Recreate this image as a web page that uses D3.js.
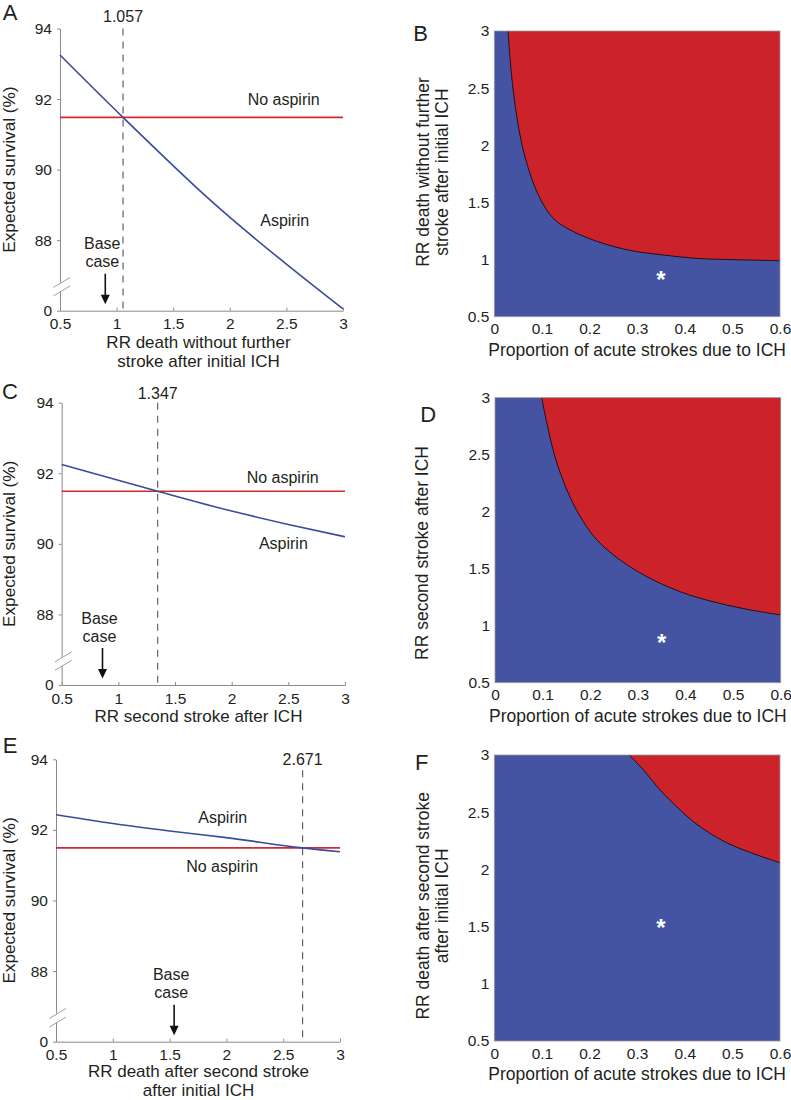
<!DOCTYPE html>
<html><head><meta charset="utf-8">
<script src="https://cdn.jsdelivr.net/npm/d3@7"></script>
<style>
body{margin:0;background:#fff}
svg{display:block}
text{font-family:"Liberation Sans",Arial,sans-serif;fill:#231f20}
</style>
</head><body>
<svg id="chart" width="791" height="1100"></svg>
<script>
// ---------- data ----------
const lineXTicks = [0.5, 1, 1.5, 2, 2.5, 3];
const lineYTicks = [86, 88, 90, 92, 94];
const lineYTickLabels = ["0", "88", "90", "92", "94"];

const noAspirinA = [[0.5, 91.48], [3, 91.48]];
const aspirinA = [[0.5, 93.25], [1.057, 91.48], [1.825, 89.14], [3, 86.05]];
const thresholdA = 1.057;
const baseCaseA = 0.9;

const noAspirinC = [[0.5, 91.49], [3, 91.49]];
const aspirinC = [[0.5, 92.25], [1.347, 91.49], [2, 90.93], [2.5, 90.55], [3, 90.2]];
const thresholdC = 1.347;
const baseCaseC = 0.86;

const noAspirinE = [[0.5, 91.49], [3, 91.49]];
const aspirinE = [[0.5, 92.43], [1, 92.18], [1.5, 91.97], [2, 91.78], [2.671, 91.49], [3, 91.38]];
const thresholdE = 2.671;
const baseCaseE = 1.54;

const mapXTicks = [0, 0.1, 0.2, 0.3, 0.4, 0.5, 0.6];
const mapYTicks = [0.5, 1, 1.5, 2, 2.5, 3];

const boundaryB = [[0.029, 3], [0.033, 2.76], [0.040, 2.47], [0.050, 2.18], [0.065, 1.89],
  [0.093, 1.56], [0.124, 1.36], [0.159, 1.26], [0.215, 1.16], [0.285, 1.08],
  [0.355, 1.04], [0.425, 1.01], [0.495, 1.0], [0.6, 0.99]];
const boundaryD = [[0.098, 3], [0.109, 2.775], [0.126, 2.48], [0.151, 2.19], [0.179, 1.956],
  [0.214, 1.752], [0.263, 1.576], [0.319, 1.43], [0.389, 1.298], [0.458, 1.21],
  [0.529, 1.144], [0.6, 1.094]];
const boundaryF = [[0.2835, 3], [0.313, 2.87], [0.348, 2.694], [0.383, 2.548], [0.418, 2.417],
  [0.453, 2.316], [0.488, 2.233], [0.523, 2.17], [0.558, 2.117], [0.6, 2.058]];

const starB = [0.35, 0.87];
const starD = [0.35, 0.89];
const starF = [0.35, 1.53];

// ---------- styles ----------
const BLUE_LINE = "#3b4a9d", RED_LINE = "#d2282f";
const BLUE_FILL = "#4553a3", RED_FILL = "#cb2329";
const AXIS = "#8a8a8a", TXT = "#231f20";
const FONT = '"Liberation Sans", Arial, sans-serif';

const svg = d3.select("#chart");

function styleAxis(g, size) {
  g.attr("font-family", FONT).attr("font-size", size);
  g.selectAll("text").attr("fill", TXT);
  g.selectAll("line").attr("stroke", AXIS);
  g.select(".domain").attr("stroke", AXIS);
}

function linePanel(cfg) {
  const x = d3.scaleLinear().domain([0.5, 3]).range([cfg.x0, cfg.x1]);
  const y = d3.scaleLinear().domain([86, 94]).range([cfg.y1, cfg.y0]);
  const g = svg.append("g");

  const ya = g.append("g").attr("transform", `translate(${cfg.x0},0)`)
    .call(d3.axisLeft(y).tickValues(lineYTicks)
      .tickFormat((d, i) => lineYTickLabels[i])
      .tickSizeInner(3).tickSizeOuter(0).tickPadding(5));
  styleAxis(ya, 15.5);
  const xa = g.append("g").attr("transform", `translate(0,${cfg.y1})`)
    .call(d3.axisBottom(x).tickValues(lineXTicks).tickFormat(d => String(d))
      .tickSizeInner(-3).tickSizeOuter(0).tickPadding(7.5));
  styleAxis(xa, 15.5);

  // axis break
  const yb = y(86.6), x0 = cfg.x0;
  g.append("polygon")
    .attr("points", `${x0-6.7},${yb-2.5} ${x0+10},${yb-12.5} ${x0+10},${yb-4} ${x0-6.7},${yb+6}`)
    .attr("fill", "#fff");
  g.append("line").attr("x1", x0 - 6.7).attr("y1", yb - 2).attr("x2", x0 + 10).attr("y2", yb - 12)
    .attr("stroke", "#a0a0a0").attr("stroke-width", 1);
  g.append("line").attr("x1", x0 - 6.7).attr("y1", yb + 6.5).attr("x2", x0 + 10).attr("y2", yb - 3.5)
    .attr("stroke", "#a0a0a0").attr("stroke-width", 1);

  // threshold dashed line
  g.append("line")
    .attr("x1", x(cfg.threshold)).attr("x2", x(cfg.threshold))
    .attr("y1", cfg.y0 + cfg.dashTopOffset).attr("y2", cfg.y1)
    .attr("stroke", "#555").attr("stroke-width", 1.1).attr("stroke-dasharray", "7,6");
  g.append("text").attr("x", x(cfg.threshold)).attr("y", cfg.y0 + cfg.threshLabelOffset)
    .attr("dy", "0.35em").attr("text-anchor", "middle").attr("font-size", 16)
    .text(String(cfg.threshold));

  const line = d3.line().x(d => x(d[0])).y(d => y(d[1])).curve(d3.curveMonotoneX);
  g.append("path").datum(cfg.noAsp).attr("d", line).attr("fill", "none")
    .attr("stroke", RED_LINE).attr("stroke-width", 1.6);
  g.append("path").datum(cfg.asp).attr("d", line).attr("fill", "none")
    .attr("stroke", BLUE_LINE).attr("stroke-width", 1.6);

  cfg.labels.forEach(l => {
    g.append("text").attr("x", x(l.x)).attr("y", y(l.y)).attr("dy", "0.35em")
      .attr("text-anchor", "middle").attr("font-size", 16).text(l.text);
  });

  // base case
  const bx = x(cfg.base);
  const bt = g.append("text").attr("text-anchor", "middle").attr("font-size", 16);
  bt.append("tspan").attr("x", bx - 3).attr("y", cfg.y1 - 67).attr("dy", "0.35em").text("Base");
  bt.append("tspan").attr("x", bx - 3).attr("y", cfg.y1 - 49).attr("dy", "0.35em").text("case");
  g.append("line").attr("x1", bx).attr("x2", bx).attr("y1", cfg.y1 - 37).attr("y2", cfg.y1 - 14)
    .attr("stroke", "#111").attr("stroke-width", 1.6);
  g.append("path")
    .attr("d", `M${bx-4.5},${cfg.y1-16} L${bx+4.5},${cfg.y1-16} L${bx},${cfg.y1-6.5} Z`)
    .attr("fill", "#111");

  // axis titles
  g.append("text").attr("transform", `translate(9,${(cfg.y0 + cfg.y1) / 2}) rotate(-90)`)
    .attr("dy", "0.35em").attr("text-anchor", "middle").attr("font-size", 17.2)
    .text("Expected survival (%)");
  cfg.xTitle.forEach((t, i) => {
    g.append("text").attr("x", 198.5).attr("y", cfg.y1 + cfg.xTitleOffset + i * 19.5).attr("dy", "0.35em")
      .attr("text-anchor", "middle").attr("font-size", 17).text(t);
  });

  g.append("text").attr("x", 10).attr("y", cfg.letterY).attr("dy", "0.35em")
    .attr("text-anchor", "middle").attr("font-size", 22).text(cfg.letter);
}

function mapPanel(cfg) {
  const x = d3.scaleLinear().domain([0, 0.6]).range([cfg.x0, cfg.x1]);
  const y = d3.scaleLinear().domain([0.5, 3]).range([cfg.y1, cfg.y0]);
  const g = svg.append("g");

  g.append("rect").attr("x", cfg.x0).attr("y", cfg.y0)
    .attr("width", cfg.x1 - cfg.x0).attr("height", cfg.y1 - cfg.y0).attr("fill", BLUE_FILL);
  const curve = d3.curveCatmullRom.alpha(0.5);
  const area = d3.area().x(d => x(d[0])).y0(y(3)).y1(d => y(d[1])).curve(curve);
  const pts = cfg.boundary;
  g.append("path").datum(pts).attr("d", area).attr("fill", RED_FILL);
  const line = d3.line().x(d => x(d[0])).y(d => y(d[1])).curve(curve);
  g.append("path").datum(pts).attr("d", line).attr("fill", "none")
    .attr("stroke", "#1c1020").attr("stroke-width", 1);
  g.append("rect").attr("x", cfg.x0).attr("y", cfg.y0)
    .attr("width", cfg.x1 - cfg.x0).attr("height", cfg.y1 - cfg.y0)
    .attr("fill", "none").attr("stroke", "#9a9a9a").attr("stroke-width", 0.8);

  g.append("text").attr("x", x(cfg.star[0])).attr("y", y(cfg.star[1])).attr("dy", "0.55em")
    .attr("text-anchor", "middle").attr("font-size", 24).attr("font-weight", "bold")
    .style("fill", "#fff").text("*");

  const ya = g.append("g").attr("transform", `translate(${cfg.x0},0)`)
    .call(d3.axisLeft(y).tickValues(mapYTicks).tickFormat(d => String(d))
      .tickSize(0).tickPadding(5));
  styleAxis(ya, 15.5);
  ya.select(".domain").remove();
  const xa = g.append("g").attr("transform", `translate(0,${cfg.y1})`)
    .call(d3.axisBottom(x).tickValues(mapXTicks).tickFormat(d => String(d))
      .tickSize(0).tickPadding(6.5));
  styleAxis(xa, 15.5);
  xa.select(".domain").remove();

  g.append("text").attr("x", (cfg.x0 + cfg.x1) / 2).attr("y", cfg.y1 + 33).attr("dy", "0.35em")
    .attr("text-anchor", "middle").attr("font-size", 17.5)
    .text("Proportion of acute strokes due to ICH");

  cfg.yTitle.forEach((t, i) => {
    g.append("text").attr("transform", `translate(${cfg.yTitleX + i * 18.5},${cfg.yTitleY}) rotate(-90)`)
      .attr("dy", "0.35em").attr("text-anchor", "middle").attr("font-size", 17.5).text(t);
  });

  g.append("text").attr("x", cfg.letterX).attr("y", cfg.letterY).attr("dy", "0.35em")
    .attr("text-anchor", "middle").attr("font-size", 22).text(cfg.letter);
}

linePanel({
  letter: "A", letterY: 12.5, x0: 60, x1: 343, y0: 28.5, y1: 310.7,
  noAsp: noAspirinA, asp: aspirinA, threshold: thresholdA, base: baseCaseA,
  dashTopOffset: 0, threshLabelOffset: -12, xTitleOffset: 31,
  labels: [{ text: "No aspirin", x: 2.476, y: 92.0 }, { text: "Aspirin", x: 2.485, y: 88.56 }],
  xTitle: ["RR death without further", "stroke after initial ICH"]
});
linePanel({
  letter: "C", letterY: 390.8, x0: 61.7, x1: 345, y0: 402.7, y1: 685,
  noAsp: noAspirinC, asp: aspirinC, threshold: thresholdC, base: baseCaseC,
  dashTopOffset: 0, threshLabelOffset: -9, xTitleOffset: 31,
  labels: [{ text: "No aspirin", x: 2.45, y: 91.88 }, { text: "Aspirin", x: 2.456, y: 90.01 }],
  xTitle: ["RR second stroke after ICH"]
});
linePanel({
  letter: "E", letterY: 745.3, x0: 56, x1: 340, y0: 759.3, y1: 1041.7,
  noAsp: noAspirinE, asp: aspirinE, threshold: thresholdE, base: baseCaseE,
  dashTopOffset: 11, threshLabelOffset: 0, xTitleOffset: 29,
  labels: [{ text: "Aspirin", x: 1.968, y: 92.35 }, { text: "No aspirin", x: 1.963, y: 90.98 }],
  xTitle: ["RR death after second stroke", "after initial ICH"]
});

mapPanel({
  letter: "B", letterX: 420.5, letterY: 32.8, x0: 494.3, x1: 780, y0: 31, y1: 316.7,
  boundary: boundaryB, star: starB,
  yTitle: ["RR death without further", "stroke after initial ICH"], yTitleX: 423.3, yTitleY: 172
});
mapPanel({
  letter: "D", letterX: 428.3, letterY: 414.2, x0: 495, x1: 780.7, y0: 397.7, y1: 682.7,
  boundary: boundaryD, star: starD,
  yTitle: ["RR second stroke after ICH"], yTitleX: 421.7, yTitleY: 553
});
mapPanel({
  letter: "F", letterX: 421.7, letterY: 762.5, x0: 494.3, x1: 780, y0: 755, y1: 1041,
  boundary: boundaryF, star: starF,
  yTitle: ["RR death after second stroke", "after initial ICH"], yTitleX: 423.3, yTitleY: 905.8
});
</script>
</body></html>
